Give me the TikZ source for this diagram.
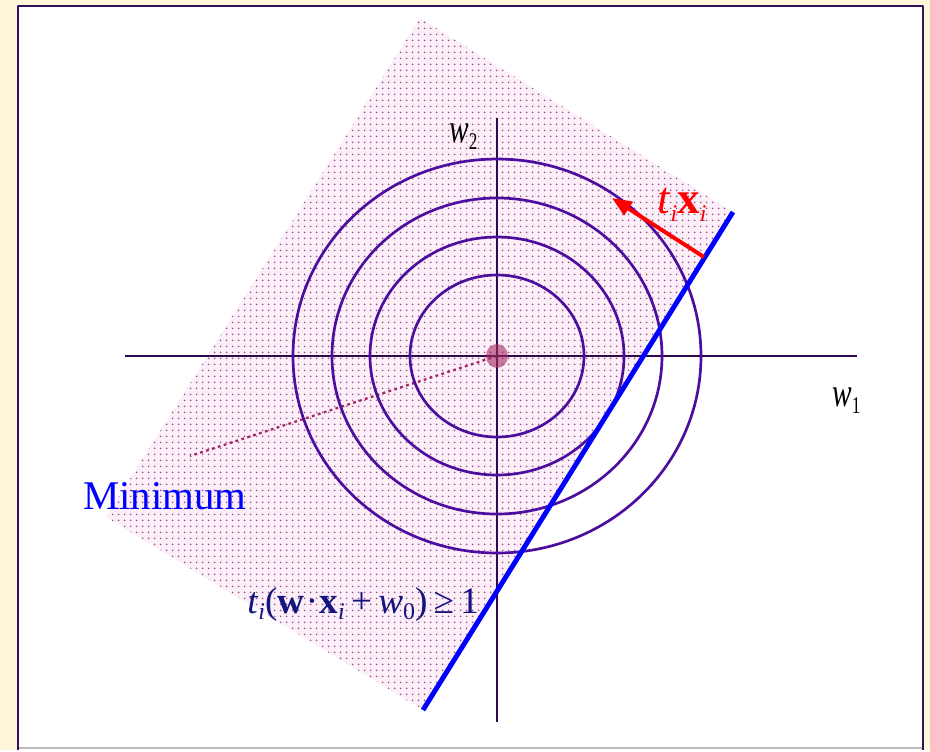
\documentclass[tikz,border=0pt]{standalone}
\usepackage{fontspec}
\setmainfont{Liberation Serif}
\usetikzlibrary{arrows.meta,patterns.meta}
\definecolor{pagebg}{HTML}{FDF6D8}
\definecolor{framecol}{HTML}{34105A}
\definecolor{axiscol}{HTML}{2E0B4F}
\definecolor{ringcol}{HTML}{4B0E9E}
\definecolor{regionbg}{HTML}{FDEFF9}
\definecolor{regiondot}{HTML}{94507C}
\definecolor{mincol}{HTML}{A3285E}
\definecolor{labelnavy}{HTML}{14147E}
\newcommand{\lsub}[1]{\raisebox{-0.4ex}{\fontsize{17}{17}\selectfont #1}}
\newcommand{\narrow}[1]{\scalebox{0.72}[1]{#1}}

\begin{document}
\begin{tikzpicture}[x=0.025cm, y=-0.025cm, line join=round,
    axis/.style={axiscol, line width=1.4pt},
    ring/.style={ringcol, line width=1.9pt},
    lbl/.style={anchor=base west, inner sep=0pt, font=\fontsize{29}{31}\selectfont}]

    % 1. 页面背景与边框
    \fill[pagebg] (0,0) rectangle (930,750);
    \fill[white] (18,6) rectangle (923,750);
    \draw[gray!55, line width=1pt] (18,748) -- (923,748);
    \draw[framecol, line width=2pt] (18,750) -- (18,6) -- (923,6) -- (923,750);

    % 2. 可行区域（旋转的矩形）
    \coordinate (T) at (420,18);
    \coordinate (R) at (733,212);
    \coordinate (B) at (423,710);
    \coordinate (L) at (106,517);
    \fill[regionbg] (T) -- (R) -- (B) -- (L) -- cycle;
    \fill[pattern={Dots[distance=4pt, radius=0.7pt, angle=0]}, pattern color=regiondot]
        (T) -- (R) -- (B) -- (L) -- cycle;

    % 3. 原点与指向最小值的虚线
    \coordinate (O) at (497,356);
    \coordinate (M) at (190,456);
    \draw[mincol, line width=1.6pt, dash pattern=on 2pt off 2.4pt] (O) -- (M);

    % 4. 坐标轴
    \coordinate (Xl) at (125,356);
    \coordinate (Xr) at (857,356);
    \coordinate (Yt) at (497,118);
    \coordinate (Yb) at (497,722);
    \draw[axis] (Xl) -- (Xr);
    \draw[axis] (Yt) -- (Yb);

    % 5. 等高线
    \foreach \rx/\ry in {87/81, 127/119, 165/158, 204/197}
        \draw[ring] (O) ellipse [x radius=\rx, y radius=\ry];
    \fill[mincol, opacity=0.6] (O) ellipse [x radius=11, y radius=12];

    % 6. 约束边界与法向量
    \draw[blue, line width=3.5pt] (R) -- (B);
    \coordinate (Nt) at (704,257);
    \coordinate (Nh) at (612,198);
    \draw[red, line width=2.8pt, -{Triangle[length=14pt, width=11pt]}] (Nt) -- (Nh);

    % 7. 标注
    \node[lbl] (w2) at (449,142) {\narrow{\textit{w}\lsub{2}}};
    \node[lbl] (w1) at (832,406) {\narrow{\textit{w}\lsub{1}}};
    \node[lbl, red, font=\fontsize{32}{34}\selectfont] (txi) at (657,213)
        {\textit{t}\lsub{\textit{i}}\textbf{x}\lsub{\textit{i}}};
    \node[lbl, blue] (minlab) at (83,509) {Minimum};
    \node[lbl, labelnavy, font=\fontsize{26.5}{28}\selectfont] (cons) at (247,613)
        {\textit{t}\lsub{\textit{i}}(\textbf{w}\kern1pt·\kern1pt\textbf{x}\lsub{\textit{i}}\,+\,\textit{w}\lsub{0})\,≥\,1};

\end{tikzpicture}
\end{document}
